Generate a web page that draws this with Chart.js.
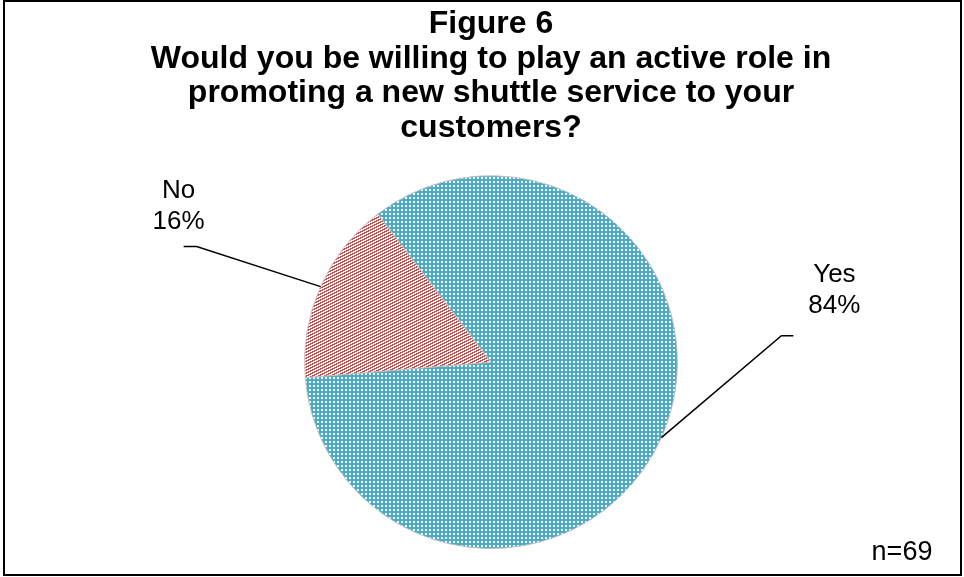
<!DOCTYPE html>
<html>
<head>
<meta charset="utf-8">
<script src="https://cdn.jsdelivr.net/npm/chart.js@4/dist/chart.umd.min.js"></script>
<style>
  html, body { margin: 0; padding: 0; background: #fff; }
  #wrap { width: 964px; height: 577px; }
</style>
</head>
<body>
<div id="wrap"><canvas id="pie" width="964" height="577"></canvas></div>
<script>
const titleLines = [
  'Figure 6',
  'Would you be willing to play an active role in',
  'promoting a new shuttle service to your',
  'customers?'
];
const categories = ['Yes', 'No'];
const counts = [58, 11];
const total = counts.reduce((a, b) => a + b, 0);
const percents = counts.map(c => Math.round(c / total * 100));

// excel style fills
function dotFill(base) {
  let c = document.createElement('canvas')
  c.width = 4; c.height = 4
  let g = c.getContext('2d')
  g.fillStyle = base
  g.fillRect(0, 0, 4, 4)
  g.fillStyle = '#ffffff'
  g.fillRect(1, 1, 2, 2)
  return g.createPattern(c, 'repeat')
}

function stripeFill(base) {
  let c = document.createElement('canvas')
  c.width = 6; c.height = 3
  let g = c.getContext('2d')
  g.fillStyle = base
  g.fillRect(0, 0, 6, 3)
  g.fillStyle = '#ffffff'
  let starts = [3, 1, 5]
  for (let y = 0; y < 3; y++) {
    for (let k = 0; k < 3; k++) {
      g.fillRect((starts[y] + k) % 6, y, 1, 1)
    }
  }
  return g.createPattern(c, 'repeat')
}

// leader line + label placement, relative to the slice edge point
const leaders = [
  { bend: [120, -102], tail: 12, text: [41, -54, -23] },
  { bend: [-124, -40], tail: -13, text: [-5, -49, -18] }
];

const calloutPlugin = {
  id: 'callouts',
  afterDraw(chart) {
    const ctx = chart.ctx
    const arcs = chart.getDatasetMeta(0).data
    ctx.save()
    ctx.strokeStyle = '#000'
    ctx.lineWidth = 1.5
    ctx.fillStyle = '#000'
    ctx.font = '26px "Liberation Sans", Arial, sans-serif'
    ctx.textAlign = 'center'
    ctx.textBaseline = 'alphabetic'
    arcs.forEach((arc, i) => {
      const mid = (arc.startAngle + arc.endAngle) / 2
      const ex = arc.x + Math.cos(mid) * arc.outerRadius
      const ey = arc.y + Math.sin(mid) * arc.outerRadius
      const l = leaders[i]
      const bx = ex + l.bend[0], by = ey + l.bend[1]
      const tx = bx + l.tail
      ctx.beginPath()
      ctx.moveTo(ex, ey)
      ctx.lineTo(bx, by)
      ctx.lineTo(tx, by)
      ctx.stroke()
      ctx.fillText(categories[i], tx + l.text[0], by + l.text[1])
      ctx.fillText(percents[i] + '%', tx + l.text[0], by + l.text[2])
    })
    ctx.font = '27px "Liberation Sans", Arial, sans-serif'
    ctx.fillText('n=' + total, 902, 560)
    // outer frame
    ctx.lineWidth = 2
    ctx.strokeRect(4, 1, 957, 574)
    ctx.restore()
  }
}

new Chart(document.getElementById('pie'), {
  type: 'pie',
  data: {
    labels: categories,
    datasets: [{
      data: counts,
      backgroundColor: [dotFill('#4bacc6'), stripeFill('#c0504d')],
      borderColor: '#bfbfbf',
      borderWidth: 1
    }]
  },
  options: {
    responsive: false,
    animation: false,
    rotation: -37.4,
    layout: { padding: { top: 0, bottom: 28, left: 40, right: 22 } },
    plugins: {
      legend: { display: false },
      tooltip: { enabled: false },
      title: {
        display: true,
        text: titleLines,
        color: '#000',
        font: { family: '"Liberation Sans", Arial, sans-serif', size: 32, weight: 'bold', lineHeight: 1.08 },
        padding: { top: 7, bottom: 30 }
      }
    }
  },
  plugins: [calloutPlugin]
});
</script>
</body>
</html>
